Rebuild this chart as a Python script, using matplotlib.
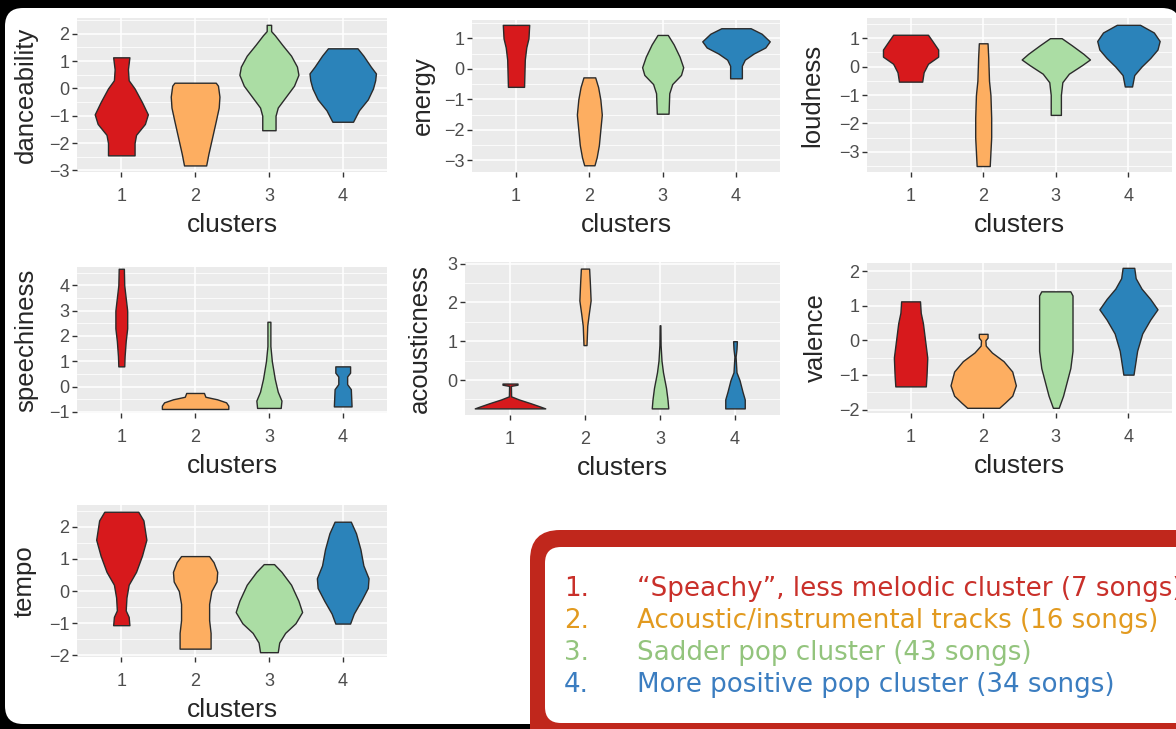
import matplotlib.pyplot as plt
from matplotlib.patches import FancyBboxPatch
from matplotlib.ticker import MultipleLocator

W, H = 1176, 729

clusters = [1, 2, 3, 4]
cluster_colors = ["#d7191c", "#fdae61", "#abdda4", "#2b83ba"]

# violin outlines: y values and half widths (x units), one list per cluster
danceability_y = [
    [1.14, 0.7, 0.3, 0.0, -0.5, -0.95, -1.3, -1.7, -2.0, -2.45],
    [0.21, 0.1, -0.3, -0.7, -1.2, -1.8, -2.4, -2.82],
    [2.33, 2.1, 1.95, 1.6, 1.2, 0.8, 0.5, 0.1, -0.3, -0.7, -1.0, -1.53],
    [1.47, 1.2, 0.8, 0.55, 0.3, 0.0, -0.4, -0.8, -1.22],
]
danceability_hw = [
    [0.11, 0.09, 0.10, 0.18, 0.28, 0.36, 0.32, 0.20, 0.18, 0.18],
    [0.28, 0.31, 0.33, 0.32, 0.28, 0.23, 0.18, 0.15],
    [0.03, 0.03, 0.08, 0.18, 0.30, 0.38, 0.40, 0.34, 0.23, 0.12, 0.09, 0.09],
    [0.20, 0.28, 0.38, 0.45, 0.44, 0.41, 0.34, 0.22, 0.14],
]

energy_y = [
    [1.44, 1.0, 0.7, 0.3, -0.59],
    [-0.28, -0.6, -1.0, -1.5, -2.0, -2.5, -2.9, -3.16],
    [1.11, 0.8, 0.4, 0.05, -0.2, -0.5, -0.8, -1.47],
    [1.33, 1.15, 0.9, 0.7, 0.5, 0.3, 0.1, -0.31],
]
energy_hw = [
    [0.18, 0.17, 0.14, 0.12, 0.11],
    [0.08, 0.12, 0.15, 0.17, 0.15, 0.13, 0.10, 0.07],
    [0.07, 0.15, 0.23, 0.28, 0.25, 0.13, 0.09, 0.08],
    [0.20, 0.35, 0.46, 0.40, 0.24, 0.12, 0.08, 0.08],
]

loudness_y = [
    [1.12, 0.9, 0.6, 0.35, 0.1, -0.2, -0.53],
    [0.82, 0.3, -0.5, -1.0, -1.8, -2.5, -3.0, -3.5],
    [1.0, 0.75, 0.45, 0.25, 0.05, -0.25, -0.55, -1.0, -1.7],
    [1.47, 1.2, 0.9, 0.6, 0.3, 0.0, -0.3, -0.7],
]
loudness_hw = [
    [0.24, 0.30, 0.38, 0.38, 0.24, 0.18, 0.16],
    [0.06, 0.07, 0.08, 0.10, 0.11, 0.11, 0.10, 0.09],
    [0.08, 0.22, 0.38, 0.47, 0.36, 0.18, 0.09, 0.07, 0.07],
    [0.16, 0.35, 0.43, 0.40, 0.30, 0.18, 0.08, 0.05],
]

speechiness_y = [
    [4.65, 4.0, 3.5, 3.0, 2.3, 1.8, 1.2, 0.8],
    [-0.25, -0.4, -0.5, -0.62, -0.75, -0.88],
    [2.56, 1.6, 1.0, 0.3, -0.2, -0.55, -0.84],
    [0.8, 0.55, 0.4, 0.1, -0.1, -0.78],
]
speechiness_hw = [
    [0.035, 0.04, 0.06, 0.08, 0.08, 0.06, 0.045, 0.04],
    [0.12, 0.14, 0.30, 0.42, 0.45, 0.45],
    [0.02, 0.02, 0.04, 0.08, 0.12, 0.17, 0.16],
    [0.10, 0.10, 0.06, 0.06, 0.11, 0.12],
]

acousticness_y = [
    [-0.09, -0.12, -0.15, -0.42, -0.5, -0.6, -0.68, -0.73],
    [2.87, 2.5, 2.05, 1.7, 1.4, 0.9],
    [1.41, 0.9, 0.5, 0.2, -0.2, -0.5, -0.73],
    [1.0, 0.8, 0.6, 0.2, 0.0, -0.3, -0.5, -0.73],
]
acousticness_hw = [
    [0.10, 0.10, 0.012, 0.015, 0.12, 0.28, 0.40, 0.47],
    [0.055, 0.065, 0.075, 0.05, 0.03, 0.02],
    [0.005, 0.008, 0.02, 0.04, 0.08, 0.10, 0.11],
    [0.025, 0.02, 0.008, 0.02, 0.06, 0.10, 0.13, 0.13],
]

valence_y = [
    [1.13, 0.8, 0.5, 0.0, -0.5, -1.0, -1.33],
    [0.19, 0.08, 0.0, -0.15, -0.35, -0.6, -0.9, -1.3, -1.6, -1.8, -1.95],
    [1.42, 1.3, 0.5, -0.3, -0.8, -1.2, -1.6, -1.95],
    [2.1, 1.8, 1.5, 1.2, 0.9, 0.6, 0.2, -0.3, -0.99],
]
valence_hw = [
    [0.13, 0.14, 0.17, 0.20, 0.23, 0.22, 0.21],
    [0.06, 0.06, 0.03, 0.035, 0.12, 0.28, 0.40, 0.45, 0.40, 0.30, 0.22],
    [0.20, 0.23, 0.23, 0.23, 0.20, 0.15, 0.10, 0.04],
    [0.08, 0.10, 0.18, 0.30, 0.40, 0.30, 0.19, 0.12, 0.07],
]

tempo_y = [
    [2.47, 2.2, 1.6, 1.1, 0.6, 0.2, -0.2, -0.6, -0.8, -1.06],
    [1.09, 0.9, 0.6, 0.3, 0.0, -0.4, -0.9, -1.3, -1.79],
    [0.84, 0.6, 0.2, -0.3, -0.65, -1.0, -1.3, -1.6, -1.9],
    [2.16, 1.8, 1.3, 0.8, 0.4, 0.1, -0.3, -0.7, -1.01],
]
tempo_hw = [
    [0.23, 0.30, 0.34, 0.28, 0.20, 0.10, 0.07, 0.06, 0.10, 0.11],
    [0.19, 0.25, 0.30, 0.29, 0.22, 0.19, 0.19, 0.21, 0.21],
    [0.07, 0.17, 0.30, 0.40, 0.45, 0.36, 0.22, 0.14, 0.12],
    [0.11, 0.18, 0.24, 0.28, 0.35, 0.34, 0.25, 0.15, 0.10],
]

legend_nums = ["1.", "2.", "3.", "4."]
legend_texts = [
    "\u201cSpeachy\u201d, less melodic cluster (7 songs)",
    "Acoustic/instrumental tracks (16 songs)",
    "Sadder pop cluster (43 songs)",
    "More positive pop cluster (34 songs)",
]
legend_colors = ["#c9302a", "#e29a1f", "#93c47d", "#3b7dc0"]

# panel: name, y data, half widths, y ticks, y limits, pixel box (left, top, right, bottom), ylabel x
panels = [
    ("danceability", danceability_y, danceability_hw, range(-3, 3), (-3.06, 2.58), (77, 18, 387, 172), -0.126),
    ("energy", energy_y, energy_hw, range(-3, 2), (-3.38, 1.60), (472, 20, 780, 172), -0.12),
    ("loudness", loudness_y, loudness_hw, range(-3, 2), (-3.71, 1.71), (867, 18, 1172, 172), -0.139),
    ("speechiness", speechiness_y, speechiness_hw, range(-1, 5), (-1.04, 4.72), (77, 267, 387, 413), -0.126),
    ("acousticness", acousticness_y, acousticness_hw, range(0, 4), (-0.90, 3.04), (465, 262, 780, 415), -0.105),
    ("valence", valence_y, valence_hw, range(-2, 3), (-2.10, 2.24), (867, 263, 1172, 413), -0.129),
    ("tempo", tempo_y, tempo_hw, range(-2, 3), (-2.05, 2.68), (77, 505, 387, 657), -0.129),
]

plt.rcParams['font.family'] = ['Liberation Sans', 'DejaVu Sans']

fig = plt.figure(figsize=(W / 100, H / 100), dpi=100)
fig.patch.set_facecolor("black")

# background: white rounded card + red legend box, in pixel coordinates
bg = fig.add_axes([0, 0, 1, 1], zorder=-1)
bg.set_xlim(0, W)
bg.set_ylim(H, 0)
bg.axis("off")
bg.add_patch(FancyBboxPatch((5, 8), 1175, 716, boxstyle="round,pad=0,rounding_size=18",
                            fc="white", ec="none"))
bg.add_patch(FancyBboxPatch((530, 530), 700, 230, boxstyle="round,pad=0,rounding_size=30",
                            fc="#c0271c", ec="none"))
bg.add_patch(FancyBboxPatch((545, 547), 680, 176, boxstyle="round,pad=0,rounding_size=16",
                            fc="white", ec="none"))

leg_base = [596, 628, 660, 692]
for i in range(4):
    bg.text(589, leg_base[i], legend_nums[i], color=legend_colors[i], fontsize=18.8,
            family=["DejaVu Sans"], ha="right", va="baseline")
    bg.text(637, leg_base[i], legend_texts[i], color=legend_colors[i], fontsize=18.8,
            family=["DejaVu Sans"], ha="left", va="baseline")

for name, ys, hws, yticks, ylim, box, labx in panels:
    l, t, r, b = box
    ax = fig.add_axes([l / W, 1 - b / H, (r - l) / W, (b - t) / H])
    ax.set_facecolor("#ebebeb")
    for s in ax.spines.values():
        s.set_visible(False)
    ax.set_xlim(0.4, 4.6)
    ax.set_ylim(*ylim)
    ax.set_xticks(clusters)
    ax.set_yticks(list(yticks))
    ax.yaxis.set_minor_locator(MultipleLocator(0.5))
    ax.grid(True, which="major", color="white", linewidth=1.1)
    ax.grid(True, which="minor", axis="y", color="white", linewidth=0.55)
    ax.set_axisbelow(True)
    ax.tick_params(which="major", length=3.5, width=1, color="#333333",
                   labelcolor="#4d4d4d", labelsize=13)
    ax.tick_params(axis="x", pad=8)
    ax.tick_params(axis="y", pad=2)
    ax.tick_params(which="minor", length=0)
    for k, c in enumerate(clusters):
        y = ys[k]
        hw = hws[k]
        ax.fill_betweenx(y, [c - w for w in hw], [c + w for w in hw],
                         facecolor=cluster_colors[k], edgecolor="#2b2b2b", linewidth=1.0)
    ax.set_xlabel("clusters", fontsize=19, color="#262626", labelpad=6)
    ax.set_ylabel(name, fontsize=18.5, color="#262626")
    ax.yaxis.set_label_coords(labx, 0.5)

fig.savefig("out.png", dpi=100, facecolor=fig.get_facecolor())
